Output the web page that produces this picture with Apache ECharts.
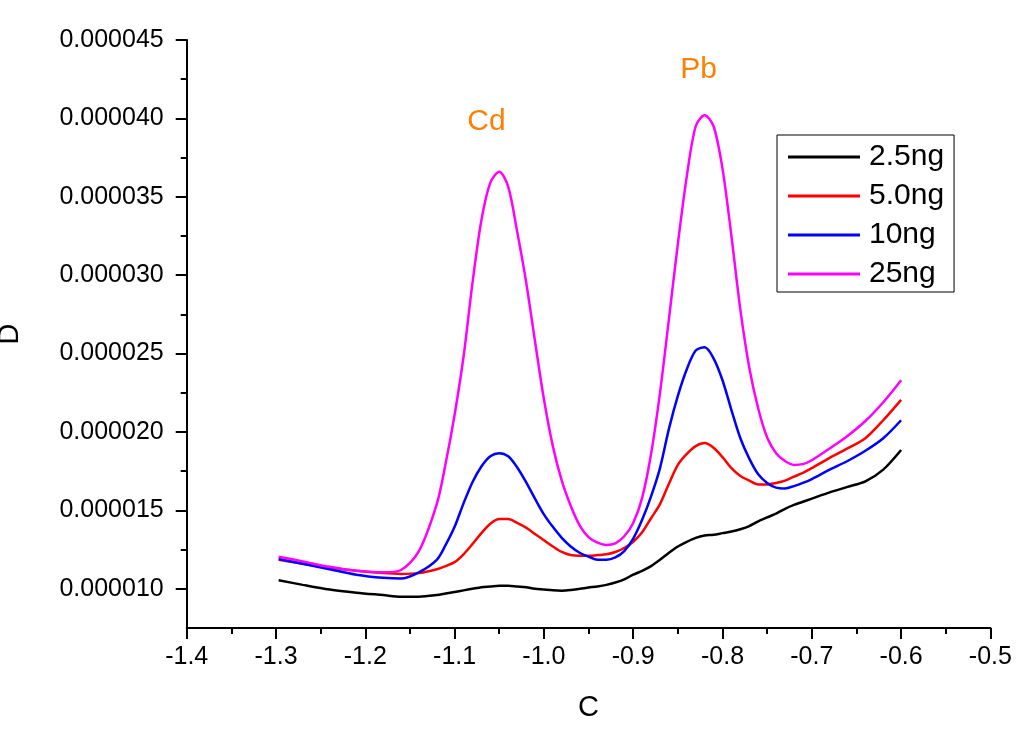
<!DOCTYPE html>
<html>
<head>
<meta charset="utf-8">
<script src="https://cdn.jsdelivr.net/npm/echarts@6/dist/echarts.min.js"></script>
<style>
html,body{margin:0;padding:0;background:#fff;}
#chart{width:1035px;height:752px;}
</style>
</head>
<body>
<div id="chart"></div>
<script>
const xValues = [-1.297, -1.27, -1.24, -1.21, -1.18, -1.16, -1.14, -1.12, -1.11, -1.10, -1.09, -1.08, -1.07, -1.06, -1.05, -1.04, -1.03, -1.02, -1.01, -1.00, -0.99, -0.98, -0.97, -0.96, -0.95, -0.94, -0.93, -0.92, -0.91, -0.90, -0.89, -0.88, -0.87, -0.86, -0.85, -0.84, -0.83, -0.82, -0.81, -0.80, -0.79, -0.78, -0.77, -0.76, -0.75, -0.74, -0.73, -0.72, -0.71, -0.70, -0.68, -0.66, -0.64, -0.62, -0.60];

const ng2_5 = [10.55e-6, 10.25e-6, 9.95e-6, 9.75e-6, 9.6e-6, 9.5e-6, 9.5e-6, 9.6e-6, 9.7e-6, 9.8e-6, 9.9e-6, 10.0e-6, 10.1e-6, 10.15e-6, 10.2e-6, 10.2e-6, 10.15e-6, 10.1e-6, 10.0e-6, 9.95e-6, 9.9e-6, 9.88e-6, 9.92e-6, 10.0e-6, 10.08e-6, 10.15e-6, 10.25e-6, 10.4e-6, 10.6e-6, 10.9e-6, 11.15e-6, 11.45e-6, 11.85e-6, 12.3e-6, 12.7e-6, 13.0e-6, 13.25e-6, 13.4e-6, 13.45e-6, 13.55e-6, 13.65e-6, 13.8e-6, 14.0e-6, 14.3e-6, 14.55e-6, 14.8e-6, 15.1e-6, 15.35e-6, 15.55e-6, 15.75e-6, 16.15e-6, 16.5e-6, 16.85e-6, 17.6e-6, 18.85e-6];

const ng5_0 = [11.85e-6, 11.6e-6, 11.35e-6, 11.15e-6, 11.0e-6, 10.95e-6, 11.0e-6, 11.25e-6, 11.45e-6, 11.7e-6, 12.2e-6, 12.85e-6, 13.55e-6, 14.15e-6, 14.45e-6, 14.45e-6, 14.2e-6, 13.9e-6, 13.5e-6, 13.1e-6, 12.7e-6, 12.35e-6, 12.15e-6, 12.1e-6, 12.1e-6, 12.15e-6, 12.2e-6, 12.35e-6, 12.6e-6, 13.0e-6, 13.6e-6, 14.5e-6, 15.4e-6, 16.7e-6, 17.9e-6, 18.6e-6, 19.1e-6, 19.3e-6, 19.0e-6, 18.4e-6, 17.7e-6, 17.2e-6, 16.9e-6, 16.65e-6, 16.65e-6, 16.75e-6, 16.9e-6, 17.15e-6, 17.4e-6, 17.7e-6, 18.35e-6, 18.95e-6, 19.6e-6, 20.75e-6, 22.05e-6];

const ng10 = [11.9e-6, 11.6e-6, 11.25e-6, 10.9e-6, 10.7e-6, 10.65e-6, 11.05e-6, 11.85e-6, 12.8e-6, 13.95e-6, 15.45e-6, 16.8e-6, 17.8e-6, 18.45e-6, 18.65e-6, 18.45e-6, 17.75e-6, 16.8e-6, 15.75e-6, 14.75e-6, 13.95e-6, 13.25e-6, 12.7e-6, 12.3e-6, 12.05e-6, 11.85e-6, 11.85e-6, 12.0e-6, 12.4e-6, 13.2e-6, 14.4e-6, 15.9e-6, 17.7e-6, 20.2e-6, 22.3e-6, 24.0e-6, 25.2e-6, 25.4e-6, 24.7e-6, 23.3e-6, 21.4e-6, 19.6e-6, 18.3e-6, 17.3e-6, 16.75e-6, 16.45e-6, 16.4e-6, 16.55e-6, 16.75e-6, 17.0e-6, 17.6e-6, 18.15e-6, 18.8e-6, 19.6e-6, 20.75e-6];

const ng25 = [12.05e-6, 11.75e-6, 11.4e-6, 11.15e-6, 11.05e-6, 11.2e-6, 12.4e-6, 15.4e-6, 18.0e-6, 21.1e-6, 24.8e-6, 29.5e-6, 33.5e-6, 35.9e-6, 36.6e-6, 35.65e-6, 32.8e-6, 29.6e-6, 25.8e-6, 22.1e-6, 19.1e-6, 16.9e-6, 15.3e-6, 14.05e-6, 13.3e-6, 12.95e-6, 12.8e-6, 12.9e-6, 13.35e-6, 14.2e-6, 15.8e-6, 18.6e-6, 22.5e-6, 27.2e-6, 32.0e-6, 36.3e-6, 39.5e-6, 40.2e-6, 39.5e-6, 36.8e-6, 32.5e-6, 27.8e-6, 24.1e-6, 21.5e-6, 19.65e-6, 18.65e-6, 18.15e-6, 17.9e-6, 17.95e-6, 18.2e-6, 18.95e-6, 19.75e-6, 20.7e-6, 21.9e-6, 23.3e-6];

const seriesNames = ['2.5ng', '5.0ng', '10ng', '25ng'];
const seriesColors = ['#000000', '#ff0000', '#0000ff', '#ff00ff'];
const seriesValues = [ng2_5, ng5_0, ng10, ng25];

const yMajorTicks = [10e-6, 15e-6, 20e-6, 25e-6, 30e-6, 35e-6, 40e-6, 45e-6];
const yMinorTicks = [12.5e-6, 17.5e-6, 22.5e-6, 27.5e-6, 32.5e-6, 37.5e-6, 42.5e-6];

const annotations = [
  { name: 'Cd', x: -1.0643, y: 39.8e-6 },
  { name: 'Pb', x: -0.8267, y: 43.09e-6 }
];

const FONT = "'Liberation Sans', Arial, sans-serif";

const chart = echarts.init(document.getElementById('chart'), null, { renderer: 'canvas' });

const series = seriesNames.map((name, i) => ({
  name: name,
  type: 'line',
  xAxisIndex: 0,
  yAxisIndex: 0,
  showSymbol: false,
  symbol: 'none',
  smooth: 0.3,
  lineStyle: { color: seriesColors[i], width: 2.5 },
  itemStyle: { color: seriesColors[i] },
  data: xValues.map((x, k) => [x, seriesValues[i][k]]),
  markPoint: i === 3 ? {
    symbol: 'circle',
    symbolSize: 0,
    silent: true,
    label: {
      show: true,
      position: 'inside',
      formatter: '{b}',
      color: '#ff8000',
      fontSize: 30,
      fontFamily: FONT
    },
    data: annotations.map(a => ({ name: a.name, coord: [a.x, a.y] }))
  } : undefined
}));

chart.setOption({
  animation: false,
  backgroundColor: '#ffffff',
  grid: { left: 186.7, right: 44.6, top: 40, bottom: 124, containLabel: false, outerBoundsMode: 'none' },
  legend: {
    data: seriesNames,
    orient: 'vertical',
    left: 777,
    top: 135,
    icon: 'rect',
    itemWidth: 72,
    itemHeight: 3,
    itemGap: 9,
    padding: [7, 10, 3, 11],
    borderColor: '#000',
    borderWidth: 1,
    borderRadius: 0,
    textStyle: { fontSize: 30, lineHeight: 30, color: '#000', fontFamily: FONT, padding: [0, 0, 0, 4] }
  },
  xAxis: {
    type: 'value',
    min: -1.4,
    max: -0.5,
    interval: 0.1,
    name: 'C',
    nameLocation: 'middle',
    nameGap: 65,
    nameTextStyle: { fontSize: 29, color: '#000', fontFamily: FONT },
    axisLine: { show: true, onZero: false, lineStyle: { color: '#000', width: 2 } },
    axisTick: { show: true, length: 11, lineStyle: { color: '#000', width: 2 } },
    minorTick: { show: true, splitNumber: 2, length: 6, lineStyle: { color: '#000', width: 2 } },
    splitLine: { show: false },
    axisLabel: { fontSize: 25, color: '#000', fontFamily: FONT, margin: 17, formatter: v => v.toFixed(1) }
  },
  yAxis: [{
    type: 'value',
    min: 7.5e-6,
    max: 45e-6,
    position: 'left',
    name: 'D',
    nameLocation: 'middle',
    nameGap: 162,
    nameTextStyle: { fontSize: 29, color: '#000', fontFamily: FONT },
    axisLine: { show: true, onZero: false, lineStyle: { color: '#000', width: 2 } },
    axisTick: { show: true, length: 11, customValues: yMajorTicks, lineStyle: { color: '#000', width: 2 } },
    splitLine: { show: false },
    axisLabel: { fontSize: 25, color: '#000', fontFamily: FONT, margin: 23, customValues: yMajorTicks, formatter: v => v.toFixed(6) }
  }, {
    type: 'value',
    min: 7.5e-6,
    max: 45e-6,
    position: 'left',
    offset: 0,
    axisLine: { show: false },
    axisTick: { show: true, length: 6, customValues: yMinorTicks, lineStyle: { color: '#000', width: 2 } },
    splitLine: { show: false },
    axisLabel: { show: false }
  }],
  series: series
});
</script>
</body>
</html>
